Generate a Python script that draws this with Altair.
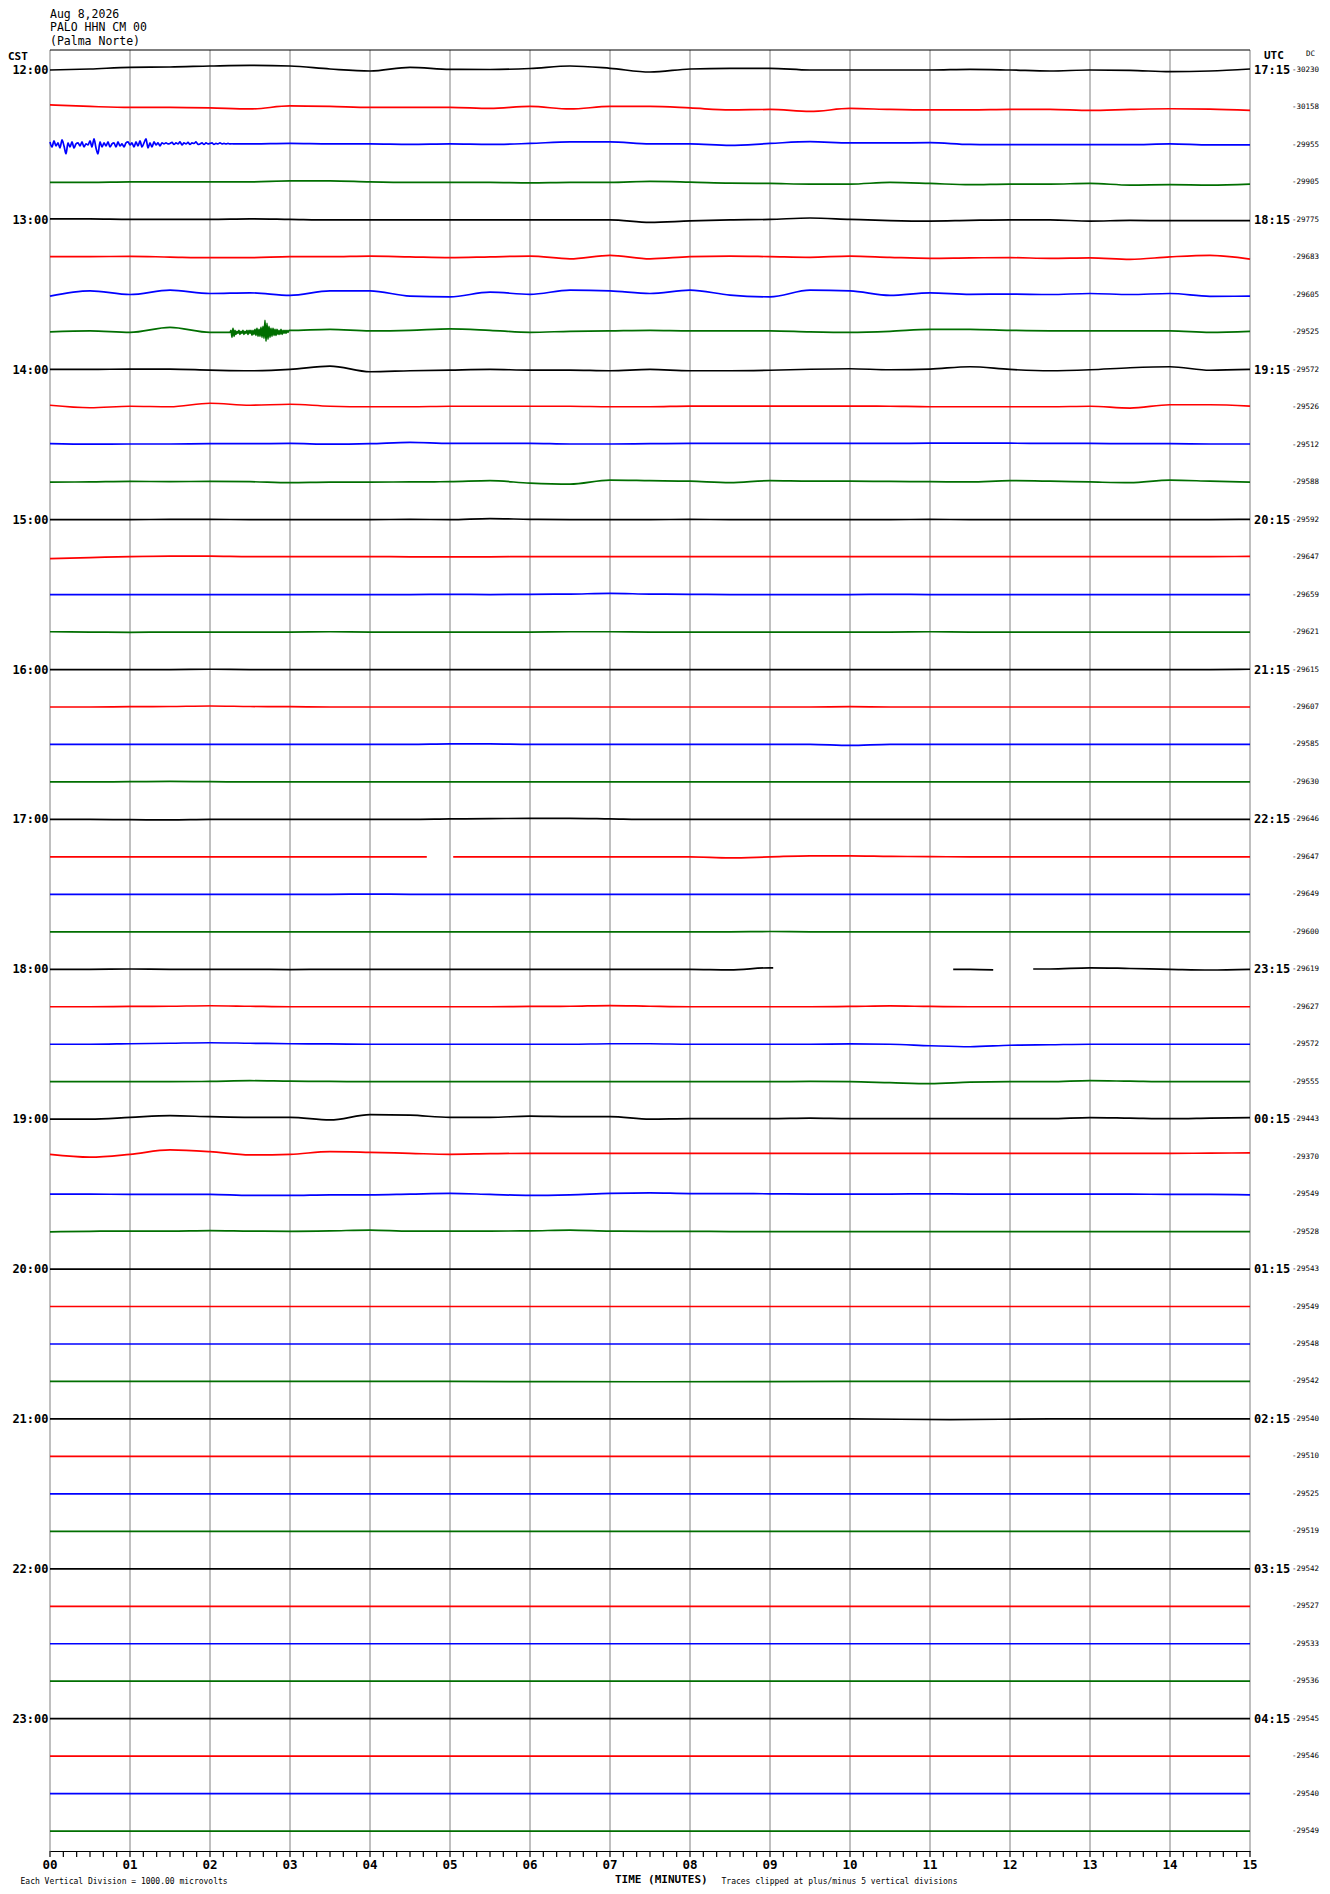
import altair as alt
import pandas as pd

# ---------------- data ----------------
MINUTES = list(range(16))
MINUTE_LABELS = ["00", "01", "02", "03", "04", "05", "06", "07",
                 "08", "09", "10", "11", "12", "13", "14", "15"]
TICK_SECONDS = list(range(0, 901, 10))
CST_LABELS = ["12:00", "13:00", "14:00", "15:00", "16:00", "17:00",
              "18:00", "19:00", "20:00", "21:00", "22:00", "23:00"]
UTC_LABELS = ["17:15", "18:15", "19:15", "20:15", "21:15", "22:15",
              "23:15", "00:15", "01:15", "02:15", "03:15", "04:15"]
DC_VALUES = [-30230, -30158, -29955, -29905, -29775, -29683, -29605, -29525,
             -29572, -29526, -29512, -29588, -29592, -29647, -29659, -29621,
             -29615, -29607, -29585, -29630, -29646, -29647, -29649, -29600,
             -29619, -29627, -29572, -29555, -29443, -29370, -29549, -29528,
             -29543, -29549, -29548, -29542, -29540, -29510, -29525, -29519,
             -29542, -29527, -29533, -29536, -29545, -29546, -29540, -29549]
COLOR_CYCLE = ["k", "r", "b", "g"]

# trace amplitudes (knots evenly spread over the 15 minutes, + = up)
T1200 = [0, 1, 2.7, 3, 4, 4.7, 4, 1, -1, 2.7, 0.7, 0.5, 1.5, 4, 1.7, -2, 1, 1.7, 1.7, 0, 0, 0, 0, 0.7, 0, -1, 0, -0.3, -1.7, -1, 1]
T1215 = [2.5, 1, 0, 0, -0.5, -1.5, 1.5, 1, 0, 0, 0, -1, 1, -1.5, 1, 1, -0.5, -2.5, -2, -4, -1, -2, -2.5, -2.5, -2, -2, -3, -2, -1.3, -1.7, -3]
T1230 = [1.5, 1.5, 1.5, 1.5, 1.5, 1, 1.5, 1, 1, 0.5, 1, 0.5, 1.5, 3, 3, 1, 1, -0.5, 1.5, 3.3, 2, 2, 2.3, 0.5, 0.3, 0.3, 0.3, 0.3, 1, 0, 0]
T1245 = [0, 0, 0.5, 0.5, 0.5, 0.5, 1.5, 1.5, 0.5, 0, 0, 0, -0.5, 0, 0, 1, 0.3, -0.7, -1, -1.7, -1.7, 0, -1, -2.3, -1.7, -1.7, -1, -2.7, -2.3, -2.7, -1.7]
T1300 = [1, 1, 0.5, 0.5, 0.5, 1, 0.5, 0, 0, 0, 0, 0, 0, 0, 0, -2.5, -1, 0, 0.5, 1.9, 0.5, -0.7, -1.2, -0.5, 0, 0, -1.2, -0.5, -0.8, -0.8, -0.8]
T1315 = [0.7, 0.7, 1, 0.3, -0.3, -0.3, 0.7, 0.7, 1.3, 0.5, -0.3, 0.5, 1.3, -1.5, 2, -1.5, 0.7, 1.3, 0.7, 0, 1.3, 0, -1, -0.5, -0.3, -1, -0.5, -2, 0.5, 2, -1.7]
T1330 = [-1.3, 4, 0.3, 4.7, 1.3, 2, -0.5, 4, 4, -1.3, -2, 2.7, 0.5, 4.7, 4, 1.3, 4.7, -0.3, -2, 4.7, 4, -0.5, 2, 0.5, 0.7, 0.3, 1.3, 0.3, 1.3, -1.5, -1.3]
T1345 = [0.5, 1.5, 0, 5, 0, 0, 3, 3, 1.5, 2, 3.5, 2, 0, 1, 1.5, 2, 1.5, 1.5, 1.5, 0.5, 0, 1, 3, 3, 2, 1.5, 1.5, 1.5, 1.5, 0, 1]
T1400 = [0.3, 0.3, 0.7, 0.7, -0.3, -1, 0.3, 3.7, -2, -1, -0.3, 0.3, -0.3, -0.3, -1, 0.3, -1, -1, -0.5, 0.5, 1, 0, 0.7, 3, 0.3, -1, 0, 2, 3, -0.5, 0.3]
T1415 = [2, -0.5, 1, 0.5, 4, 2, 3, 1, 0.5, 0.5, 1, 1, 1, 1, 0.5, 0.5, 1.2, 1.2, 1.2, 1.2, 1.2, 1, 0.5, 0.5, 0.5, 0.5, 1, -0.8, 2.5, 2.5, 1.2]
T1430 = [1, 0.5, 0.7, 0.7, 1, 1, 1.3, 0.5, 1, 2.3, 1.3, 1.3, 1.3, 0.7, 0.7, 1, 1.3, 1.3, 1.3, 1.3, 1.3, 1.3, 1.5, 1.5, 1.5, 1.3, 1.3, 1, 1, 0.7, 0.7]
T1445 = [0, 0.3, 0.8, 0.5, 0.8, 0.5, -0.5, 0, 0, 0.3, 0.5, 1.5, -1, -2, 2, 1.5, 1, -0.5, 1.5, 1, 1, 0.7, 0.5, 0.2, 1.5, 1, 0.2, -0.5, 2, 1, 0]
T1500 = [0, 0, 0, 0.3, 0.3, 0, 0, 0, 0, 0.3, 0, 1, 0.3, 0, 0, 0, 0.3, 0, 0, 0, 0, 0, 0.3, 0, 0, 0, 0, 0, 0, 0, 0.3]
T1515 = [-1.5, -0.5, 0.5, 1, 1, 0.5, 0.5, 0.5, 0.5, 0.3, 0.3, 0.3, 0.5, 0.5, 0.5, 0.5, 0.5, 0.5, 0.5, 0.5, 0.5, 0.5, 0.5, 0.5, 0.5, 0.5, 0.5, 0.5, 0.5, 0.5, 0.7]
T1530 = [0, 0, 0, 0, 0, 0, 0, 0, 0, 0, 0.3, 0, 0.3, 0.5, 1.2, 0.5, 0.3, 0, 0, 0, 0, 0.3, 0, 0, 0, 0, 0, 0, 0, 0, 0]
T1545 = [0.3, 0, -0.3, 0, 0, 0, 0, 0.3, 0, 0, 0, 0, 0, 0.3, 0.3, 0, 0, 0, 0, 0, 0, 0, 0.3, 0, 0, 0, 0, 0, 0, 0, 0]
T1600 = [0, 0, 0, 0, 0.3, 0, 0, 0, 0, 0, 0, 0, 0, 0, 0, 0, 0, 0, 0, 0, 0, 0, 0, 0, 0, 0, 0, 0, 0, 0, 0.3]
T1615 = [0, 0, 0.3, 0.5, 1, 0.5, 0.3, 0, 0, 0, 0, 0, 0, 0, 0, 0, 0, 0, 0, 0, 0.3, 0, 0, 0, 0, 0, 0, 0, 0, 0, 0]
T1630 = [0, 0, 0, 0, 0, 0, 0, 0, 0, 0, 0.5, 0.5, 0, 0, 0, 0, 0, 0, 0, 0, -1, 0, 0, 0, 0, 0, 0, 0, 0, 0, 0]
T1645 = [0, 0, 0.3, 0.5, 0.3, 0, 0, 0, 0, 0, 0, 0, 0, 0, 0, 0, 0, 0, 0, 0, 0, 0, 0, 0, 0, 0, 0, 0, 0, 0, 0]
T1700 = [0, 0, -0.3, -0.5, 0, 0, 0, 0, 0, 0, 0.5, 0.8, 1, 1, 0.5, 0, 0, 0, 0, 0, 0, 0, 0, 0, 0, 0, 0, 0, 0, 0, 0]
T1715 = [0, 0, 0, 0, 0, 0, 0, 0, 0, 0, 0, 0, 0, 0, 0, 0, 0, -1, 0, 1, 1, 0.5, 0.3, 0, 0, 0, 0, 0, 0, 0, 0]
T1730 = [0, 0, 0, 0, 0, 0, 0, 0, 0.3, 0, 0, 0, 0, 0, 0, 0, 0, 0, 0, 0, 0, 0, 0, 0, 0, 0, 0, 0, 0, 0, 0]
T1745 = [0, 0, 0, 0, 0, 0, 0, 0, 0, 0, 0, 0, 0, 0, 0, 0, 0, 0, 0.3, 0, 0, 0, 0, 0, 0, 0, 0, 0, 0, 0, 0]
T1800 = [0, 0, 0.3, 0, 0, 0, -0.3, 0, 0, 0, 0, 0, 0, 0, 0, 0, 0, -0.5, 1.5, 0, 0, 0, 0, 0, -0.5, 0.3, 1.5, 0.8, 0, -0.7, 0]
T1815 = [0, 0, 0.3, 0.5, 1, 0.5, 0, 0, 0, 0, 0, 0, 0.3, 0.5, 1.2, 0.5, 0, 0, 0, 0, 0.3, 0.8, 0.3, 0, 0, 0, 0, 0, 0, 0, 0]
T1830 = [0, 0, 0.5, 1, 1.5, 1, 0.5, 0.3, 0, 0, 0, 0, 0, 0, 0.5, 0.5, 0, 0, 0, 0, 0.3, 0, -1.5, -2.5, -1, -0.5, 0, 0, 0, 0, 0]
T1845 = [0, 0, 0, 0, 0.3, 1, 0.5, 0.3, 0, 0, 0, 0, 0, 0, 0, 0, 0, 0, 0, 0.3, 0, -1, -2, -0.5, 0, 0, 1, 0.5, 0, 0, 0]
T1900 = [0, 0, 1.7, 3.5, 2.5, 1.8, 1.8, -0.8, 4.5, 4, 1.8, 1.8, 3, 2.5, 2.5, 0, 0.5, 0.5, 0.5, 1, 0.5, 0.5, 0.5, 0.5, 0.5, 0.5, 1.5, 1, 0.5, 1, 1.5]
T1915 = [2.3, -0.5, 2.3, 6.7, 5, 1.7, 2.3, 5, 4.3, 3.3, 2.3, 3, 3.3, 3.3, 3.3, 3.3, 3.3, 3.3, 3.3, 3.3, 3.3, 3.3, 3.3, 3.3, 3.3, 3.3, 3.3, 3.3, 3.3, 3.5, 3.8]
T1930 = [0, 0, -0.3, -0.3, -0.3, -1.3, -1.3, -0.7, -0.7, 0, 0.7, -0.3, -1.3, -0.7, 0.7, 1.3, 0.5, 0.5, 0.3, 0, 0, 0, 0.3, 0, 0, 0, 0, 0, -0.3, -0.3, -0.7]
T1945 = [-0.3, 0.3, 0.5, 0.5, 1, 0.5, 0.3, 0.7, 1.5, 0.5, 0.5, 0.5, 0.7, 1.5, 0.5, 0.3, 0.3, 0, 0, 0, 0, 0, 0, 0, 0, 0, 0, 0, 0, 0, 0]
T2000 = [0, 0, 0, 0, 0, 0, 0]
T2015 = [0, 0, 0, 0, 0, 0, 0]
T2030 = [0, 0, 0, 0, 0, 0, 0]
T2045 = [0, 0, 0, -0.3, 0, 0, 0]
T2100 = [0, 0, 0, 0, 0, 0, 0, 0, 0, -0.6, 0, 0, 0]
T2115 = [0, 0, 0, 0, 0, 0, 0]
T2130 = [0, 0, 0, 0, 0, 0, 0]
T2145 = [0, 0, 0, 0, 0, 0, 0]
T2200 = [0, 0, 0, 0, 0, 0, 0]
T2215 = [0, 0, 0, 0, 0, 0, 0]
T2230 = [0, 0, 0, 0, 0, 0, 0]
T2245 = [0, 0, 0, 0, 0, 0, 0]
T2300 = [0, 0, 0, 0, 0, 0, 0]
T2315 = [0, 0, 0, 0, 0, 0, 0]
T2330 = [0, 0, 0, 0, 0, 0, 0]
T2345 = [0, 0, 0, 0, 0, 0, 0]

TRACES = [T1200, T1215, T1230, T1245, T1300, T1315, T1330, T1345,
          T1400, T1415, T1430, T1445, T1500, T1515, T1530, T1545,
          T1600, T1615, T1630, T1645, T1700, T1715, T1730, T1745,
          T1800, T1815, T1830, T1845, T1900, T1915, T1930, T1945,
          T2000, T2015, T2030, T2045, T2100, T2115, T2130, T2145,
          T2200, T2215, T2230, T2245, T2300, T2315, T2330, T2345]

# noisy stretch at 12:30 (start minute, step, amplitudes)
NOISE_1230 = [3, -2, 4, -1, 2, -3, 5, -1, -9, 2, -2, 3, -3, 1, 2, -1, 3, -2, 1, 0,
              4, -2, 6, -3, -9, 3, -2, 2, -1, 3, -2, 1, 2, -2, 3, -1, 1, -2, 2, 3,
              0, 2, -2, 3, -1, 4, -2, 2, 6, -3, 2, -2, 3, 0, 2, -1, 2, 1, 2, 1,
              1.5, 2.5, 0.5, 2, 1, 3, 0, 2, 1, 2.5, 0.5, 2, 1.5, 3, 0.5, 1, 2,
              0.5, 2, 1, 1.5, 2, 0.5, 1.5, 1, 2, 1, 1.5, 1, 1.5, 1, 1.2, 1.0]
# earthquake at 13:45
QUAKE_1345 = [0, 2, -5, 4, -4, 2, -2, 1, -1, 2, -2, 1, -1, 2, -2, 1, -1, 2, -2, 2,
              -1, 2, -3, 2, -2, 3, -3, 4, -4, 3, -4, 5, -5, 6, -6, 12, -9, 9, -7, 6,
              -5, 4, -4, 4, -3, 3, -3, 3, -2, 2, -2, 3, -2, 2, -1, 2, -1, 2, 0, 2, 2]
BURSTS = {2: (0.0, 0.025, NOISE_1230), 7: (2.25, 0.0125, QUAKE_1345)}
GAPS = {21: [(4.71, 5.04)], 24: [(9.04, 11.29), (11.79, 12.29)]}

AMP = 1 / 37.47  # amplitude units -> trace spacing

# ---------------- build tables ----------------
rows = []
for i, vals in enumerate(TRACES):
    n = len(vals)
    pts = [(15 * k / (n - 1), v) for k, v in enumerate(vals)]
    if i in BURSTS:
        start, step, arr = BURSTS[i]
        end = start + step * (len(arr) - 1)
        pts = [p for p in pts if p[0] < start - 1e-9 or p[0] > end + 1e-9]
        pts += [(start + step * k, v) for k, v in enumerate(arr)]
    gaps = GAPS.get(i, [])
    for a, b in gaps:
        va = min(pts, key=lambda p: abs(p[0] - a))[1]
        vb = min(pts, key=lambda p: abs(p[0] - b))[1]
        pts += [(a, va), (b, vb)]
    pts.sort()
    for m, v in pts:
        if any(a < m < b for a, b in gaps):
            continue
        seg = sum(1 for a, b in gaps if m >= b)
        rows.append({"seg": f"{i}_{seg}", "m": m, "y": i - v * AMP,
                     "col": COLOR_CYCLE[i % 4]})
lines_df = pd.DataFrame(rows)

grid_df = pd.DataFrame({"m": MINUTES})
tick_df = pd.DataFrame({"m": [s / 60 for s in TICK_SECONDS]})
minute_df = pd.DataFrame({"m": MINUTES, "label": MINUTE_LABELS})
left_df = pd.DataFrame({"i": [4 * k for k in range(12)], "label": CST_LABELS})
utc_df = pd.DataFrame({"i": [4 * k for k in range(12)], "label": UTC_LABELS})
dc_df = pd.DataFrame({"i": list(range(48)), "label": [str(v) for v in DC_VALUES]})

W, H = 1200, 1801
xscale = alt.Scale(domain=[0, 15], nice=False, zero=False)
yscale = alt.Scale(domain=[-0.5338, 47.531], reverse=True, nice=False, zero=False)
MONO = "DejaVu Sans Mono"

grid = alt.Chart(grid_df).mark_rule(color="#808080", strokeWidth=1).encode(
    x=alt.X("m:Q", scale=xscale,
            axis=alt.Axis(values=MINUTES, title=None, grid=False, labels=False,
                          ticks=False, domainColor="black", domainWidth=1.2)),
    y=alt.value(0), y2=alt.value(H))

ticks = alt.Chart(tick_df).mark_rule(color="black", strokeWidth=1.2).encode(
    x=alt.X("m:Q", scale=xscale), y=alt.value(H), y2=alt.value(H + 6))

minute_text = alt.Chart(minute_df).mark_text(
    align="center", baseline="middle", font=MONO, fontWeight="bold",
    fontSize=12.5, color="black").encode(
    x=alt.X("m:Q", scale=xscale), y=alt.value(H + 13.5), text="label:N")

top_border = alt.Chart(pd.DataFrame({"a": [0]})).mark_rule(
    color="black", strokeWidth=1.2).encode(
    x=alt.value(0), x2=alt.value(W), y=alt.value(0))

lines = alt.Chart(lines_df).mark_line(strokeWidth=1.7, interpolate="monotone").encode(
    x=alt.X("m:Q", scale=xscale),
    y=alt.Y("y:Q", scale=yscale, axis=None),
    detail="seg:N",
    color=alt.Color("col:N", legend=None,
                    scale=alt.Scale(domain=["k", "r", "b", "g"],
                                    range=["#000000", "#ff0000", "#0000ff", "#006e00"])))

left_text = alt.Chart(left_df).mark_text(
    align="right", baseline="middle", font=MONO, fontWeight="bold",
    fontSize=12, color="black").encode(
    x=alt.value(-1.5), y=alt.Y("i:Q", scale=yscale, axis=None), text="label:N")

utc_text = alt.Chart(utc_df).mark_text(
    align="left", baseline="middle", font=MONO, fontWeight="bold",
    fontSize=12, color="black").encode(
    x=alt.value(1204), y=alt.Y("i:Q", scale=yscale, axis=None), text="label:N")

dc_text = alt.Chart(dc_df).mark_text(
    align="left", baseline="middle", font=MONO, fontSize=7.5, color="black").encode(
    x=alt.value(1242), y=alt.Y("i:Q", scale=yscale, axis=None), text="label:N")


def label(txt, x, y, size, weight="normal"):
    return alt.Chart(pd.DataFrame({"t": [txt]})).mark_text(
        align="left", baseline="middle", font=MONO, fontSize=size,
        fontWeight=weight, color="black").encode(
        x=alt.value(x), y=alt.value(y), text="t:N")


texts = [
    label("Aug 8,2026", 0, -35.5, 11.5),
    label("PALO HHN CM 00", 0, -22, 11.5),
    label("(Palma Norte)", 0, -8, 11.5),
    label("CST", -42, 6.7, 11, "bold"),
    label("UTC", 1214, 6, 11, "bold"),
    label("DC", 1256, 4, 7.5),
    label("Each Vertical Division = 1000.00 microvolts", -29.5, 1831.5, 8),
    label("TIME (MINUTES)", 565, 1830, 11, "bold"),
    label("Traces clipped at plus/minus 5 vertical divisions", 671.5, 1831.5, 8),
]

chart = alt.layer(grid, top_border, ticks, lines, minute_text, left_text, utc_text,
                  dc_text, *texts).properties(
    width=W, height=H,
    padding={"left": 42, "top": 42, "right": 72, "bottom": 35},
    autosize=alt.AutoSizeParams(type="none"),
    background="white",
).configure_view(stroke=None)

chart.save("out.html", embed_options={"renderer": "svg", "actions": False})
